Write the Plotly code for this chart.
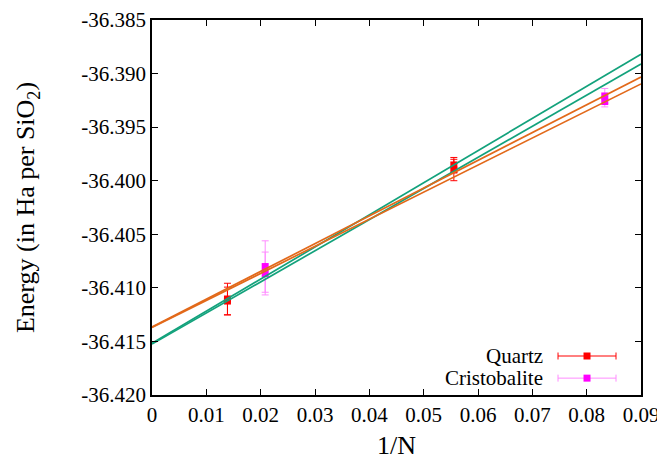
import numpy as np
import plotly.graph_objects as go

# ---------------- data ----------------
quartz_inv_n = [1/72, 1/72, 1/18, 1/18]
quartz_energy = [-36.41104, -36.41123, -36.39853, -36.39900]
quartz_err = [0.00147, 0.0013, 0.0007, 0.0010]

cristo_inv_n = [1/48, 1/48, 1/12, 1/12]
cristo_energy = [-36.40801, -36.40866, -36.39209, -36.39261]
cristo_err = [0.0024, 0.0020, 0.0007, 0.0005]

# linear extrapolation fits: E(1/N) = intercept + slope * (1/N)
fit_intercepts = [-36.41518, -36.41525, -36.41365, -36.41370]
fit_slopes = [0.2999, 0.2904, 0.2592, 0.2526]
fit_x_range = [0.0, 0.09]

x_tick_vals = [0, 0.01, 0.02, 0.03, 0.04, 0.05, 0.06, 0.07, 0.08, 0.09]
x_tick_text = ["0", "0.01", "0.02", "0.03", "0.04", "0.05", "0.06", "0.07", "0.08", "0.09"]
y_tick_vals = [-36.420, -36.415, -36.410, -36.405, -36.400, -36.395, -36.390, -36.385]
y_tick_text = ["-36.420", "-36.415", "-36.410", "-36.405", "-36.400", "-36.395", "-36.390", "-36.385"]

legend_names = ["Quartz", "Cristobalite"]
x_title = "1/N"
y_title = "Energy (in Ha per SiO<sub>2</sub>)"

# ---------------- styles ----------------
FONT = "Liberation Serif, Times New Roman, serif"
fit_colors = ["#13a27c", "#13a27c", "#e2691a", "#e2691a"]
quartz_color = "#ff0000"
cristo_color = "#ff00ff"
cristo_bar_color = "#ff8cff"

fig = go.Figure()

fig.add_trace(go.Scatter(
    x=quartz_inv_n, y=quartz_energy, mode="markers",
    marker=dict(symbol="square", size=7, color=quartz_color),
    error_y=dict(type="data", array=quartz_err, visible=True,
                 color=quartz_color, thickness=1, width=3.5),
    showlegend=False, hoverinfo="skip"))

fig.add_trace(go.Scatter(
    x=cristo_inv_n, y=cristo_energy, mode="markers",
    marker=dict(symbol="square", size=7, color=cristo_color),
    error_y=dict(type="data", array=cristo_err, visible=True,
                 color=cristo_bar_color, thickness=1, width=3.5),
    showlegend=False, hoverinfo="skip"))

xs = np.array(fit_x_range)
for b, m, c in zip(fit_intercepts, fit_slopes, fit_colors):
    fig.add_trace(go.Scatter(
        x=xs, y=b + m * xs, mode="lines",
        line=dict(color=c, width=1.7),
        showlegend=False, hoverinfo="skip"))

# ---------------- key (gnuplot style: text left, sample right) ----------------
key_y = [0.104, 0.045]
key_text_x = 0.804
key_sample_x = 0.8896
key_half_len = 0.0593
key_colors = [quartz_color, cristo_color]
key_bar_colors = [quartz_color, cristo_bar_color]
for name, ky, mc, bc in zip(legend_names, key_y, key_colors, key_bar_colors):
    fig.add_trace(go.Scatter(
        x=[key_sample_x], y=[ky], xaxis="x2", yaxis="y2", mode="markers",
        marker=dict(symbol="square", size=7, color=mc),
        error_x=dict(type="constant", value=key_half_len, visible=True,
                     color=bc, thickness=1, width=3.5),
        showlegend=False, hoverinfo="skip"))
    fig.add_annotation(x=key_text_x, y=ky, xref="paper", yref="paper",
                       text=name, showarrow=False, xanchor="right",
                       yanchor="middle",
                       font=dict(family=FONT, size=21, color="black"))

# x-axis title placed as an annotation (axis titles are clamped to the margin)
fig.add_annotation(x=0.5, y=0, xref="paper", yref="paper", text=x_title,
                   showarrow=False, xanchor="center", yanchor="middle",
                   yshift=-50, font=dict(family=FONT, size=26, color="black"))

axis_common = dict(
    showline=True, linecolor="black", linewidth=1.5, mirror="allticks",
    ticks="inside", ticklen=6, tickcolor="black", tickwidth=1,
    showgrid=False, zeroline=False, automargin=False,
    tickfont=dict(family=FONT, size=21, color="black"),
)

# the page body adds an 8px margin, so the figure is 8px smaller each way
fig.update_layout(
    width=657, height=451,
    margin=dict(l=144, r=24, t=12, b=64),
    paper_bgcolor="white", plot_bgcolor="white",
    font=dict(family=FONT, color="black"),
    xaxis=dict(range=fit_x_range, tickvals=x_tick_vals, ticktext=x_tick_text,
               **axis_common),
    yaxis=dict(range=[-36.420, -36.385], tickvals=y_tick_vals, ticktext=y_tick_text,
               title=dict(text=y_title, font=dict(family=FONT, size=26), standoff=39),
               **axis_common),
    xaxis2=dict(overlaying="x", range=[0, 1], visible=False, fixedrange=True),
    yaxis2=dict(overlaying="y", range=[0, 1], visible=False, fixedrange=True),
    showlegend=False,
)

fig.write_html("out.html")
